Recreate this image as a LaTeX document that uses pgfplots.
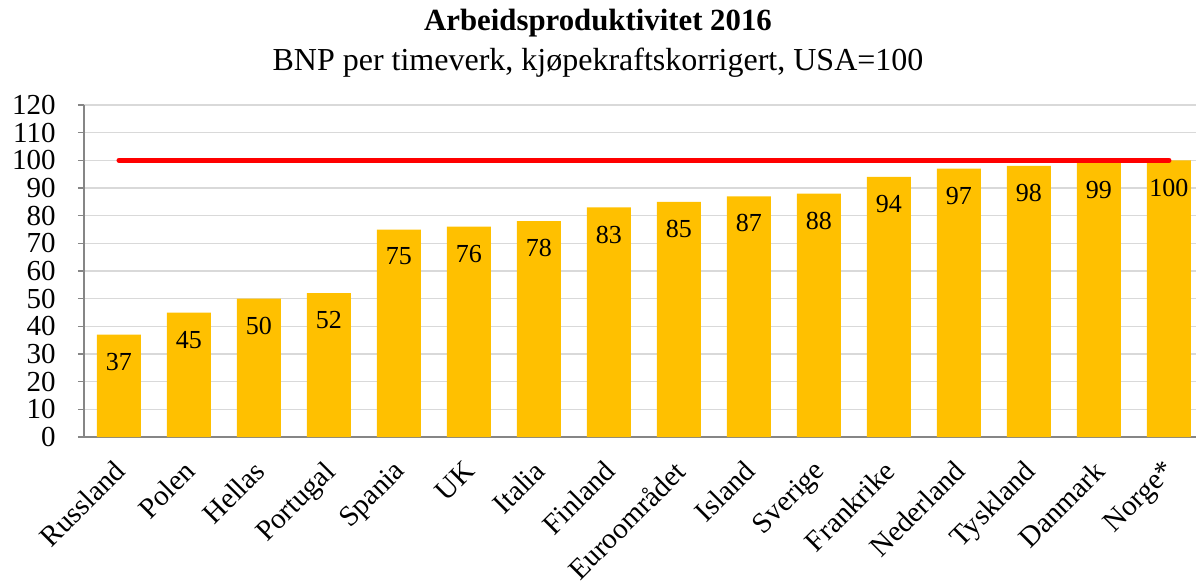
\documentclass[border=0pt]{standalone}
\usepackage{fontspec}
\setmainfont{Liberation Serif}
\usepackage{pgfplots}
\pgfplotsset{compat=1.18}
\definecolor{barc}{HTML}{FFC000}
\definecolor{gridc}{HTML}{D9D9D9}
\definecolor{axc}{HTML}{868686}
\begin{document}
\begin{tikzpicture}
\begin{axis}[
  scale only axis,
  width=556pt, height=166pt,
  xmin=-0.5, xmax=15.386,
  ymin=0, ymax=120,
  ytick={0,10,...,120},
  yticklabels={0,10,20,30,40,50,60,70,80,90,100,110,120},
  axis lines*=left,
  axis line style={axc, line width=0.75pt},
  ymajorgrids, grid style={gridc, line width=0.75pt},
  tick align=outside,
  major tick length=3pt,
  tick style={axc, line width=0.75pt},
  xtick={0,...,15},
  x tick style={draw=none},
  xticklabels={Russland,Polen,Hellas,Portugal,Spania,UK,Italia,Finland,Euroområdet,Island,Sverige,Frankrike,Nederland,Tyskland,Danmark,Norge*},
  xticklabel style={font=\fontsize{14.5}{16}\selectfont, rotate=45, anchor=north east, inner sep=1pt, yshift=-2.2pt, xshift=-6.8pt},
  extra x ticks={-0.5,0.5,...,15.5},
  extra x tick labels={},
  extra x tick style={major tick length=4pt, tick style={axc, line width=0.75pt, draw=axc}, grid=none},
  yticklabel style={font=\fontsize{14.5}{16}\selectfont, inner sep=1pt, xshift=-10pt},
  /pgf/number format/assume math mode=true,
  clip=false,
]
\addplot[ybar, bar width=22pt, fill=barc, draw=none,
  point meta=explicit symbolic,
  nodes near coords,
  every node near coord/.append style={font=\fontsize{13}{14}\selectfont, anchor=north, inner sep=0pt, yshift=-9pt, text=black}]
  coordinates {(0,37) [37] (1,45) [45] (2,50) [50] (3,52) [52] (4,75) [75] (5,76) [76] (6,78) [78] (7,83) [83] (8,85) [85] (9,87) [87] (10,88) [88] (11,94) [94] (12,97) [97] (13,98) [98] (14,99) [99] (15,100) [100]};
\addplot[red, line width=2.5pt, line cap=round] coordinates {(0,100) (15,100)};
\end{axis}
\node[font=\fontsize{15.4}{17}\selectfont\bfseries] at ([xshift=257pt,yshift=207pt]current axis.south west) {Arbeidsproduktivitet 2016};
\node[font=\fontsize{16}{18}\selectfont] at ([xshift=257pt,yshift=187pt]current axis.south west) {BNP per timeverk, kjøpekraftskorrigert, USA=100};
\pgfresetboundingbox
\path[use as bounding box] ([xshift=-42pt,yshift=-71.5pt]current axis.south west) rectangle ([xshift=556pt,yshift=218.5pt]current axis.south west);
\end{tikzpicture}
\end{document}
